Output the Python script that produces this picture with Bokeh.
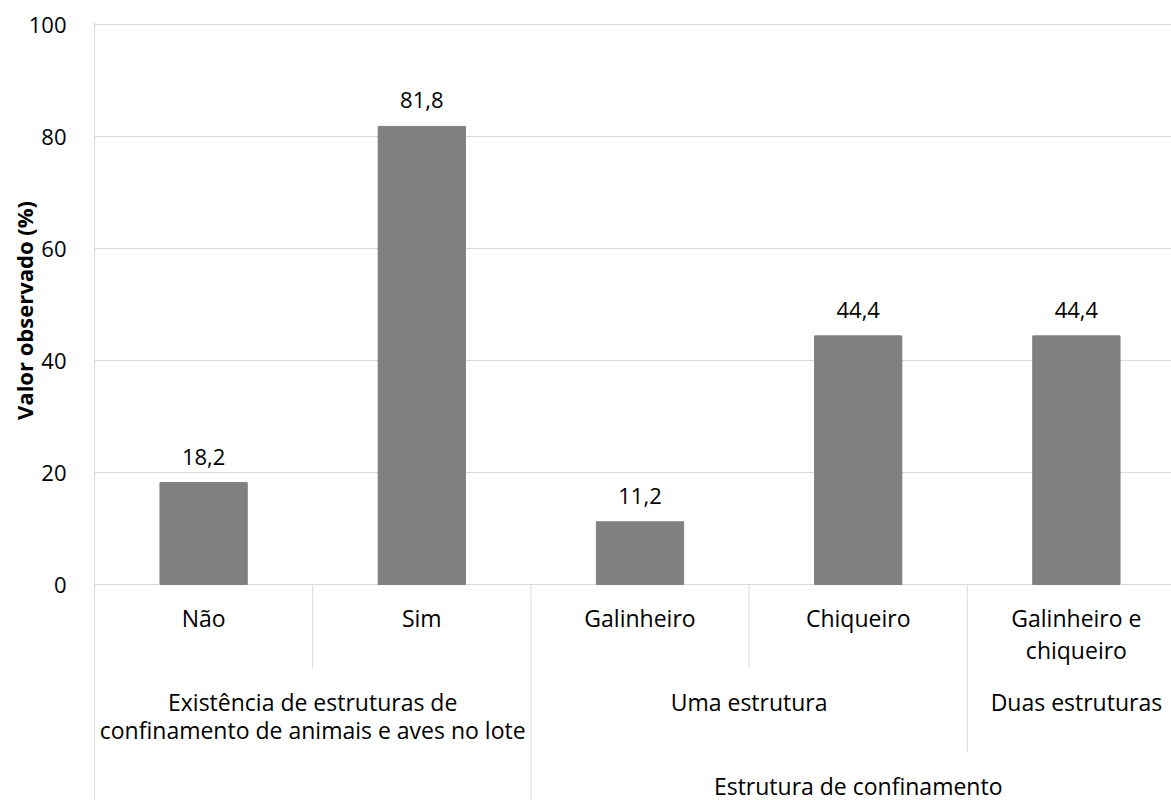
from bokeh.plotting import figure
from bokeh.layouts import column
from bokeh.models import Range1d, FixedTicker
from bokeh.core.properties import value
from bokeh.embed import file_html
from bokeh.resources import INLINE

# ---- data ----
categories = ["Não", "Sim", "Galinheiro", "Chiqueiro", "Galinheiro e\nchiqueiro"]
values = [18.2, 81.8, 11.2, 44.4, 44.4]
group_labels = ["Existência de estruturas de\nconfinamento de animais e aves no lote",
                "Uma estrutura", "Duas estruturas"]
group_spans = [(0, 2), (2, 4), (4, 5)]
top_labels = ["Estrutura de confinamento"]
top_spans = [(2, 5)]
y_ticks = [0, 20, 40, 60, 80, 100]
y_title = "Valor observado (%)"

FONT = "Open Sans"
FS = "22px"
FS_CAT = "23px"
GRID = "#d9d9d9"
PX = 5.6          # pixels per percentage unit
W = 1171
LEFT = 94
ZERO_Y = 584      # screen y of value 0
TOP_Y = 22        # top of upper frame
MID_Y = 598       # split between the two panels
H = 800

x_range = Range1d(0, (W - LEFT) / 218.2)

# divider segments (shared by both panels, clipped by each frame)
lvl1_end = -(668 - ZERO_Y) / PX
lvl2_end = -(752 - ZERO_Y) / PX
bottom = -(H + 5 - ZERO_Y) / PX
inner = set()
for a, b in group_spans:
    for k in range(a + 1, b):
        inner.add(k)
top_bounds = {a for a, b in top_spans}
x0s, y0s, y1s = [], [], []
for k in range(1, len(categories)):
    x0s.append(k)
    y0s.append(0)
    if k in inner:
        y1s.append(lvl1_end)
    elif k in top_bounds:
        y1s.append(bottom)
    else:
        y1s.append(lvl2_end)

# ---- upper panel: bars ----
p = figure(width=W, height=MID_Y, x_range=x_range,
           y_range=Range1d(-(MID_Y - ZERO_Y) / PX, (ZERO_Y - TOP_Y) / PX),
           output_backend="svg", toolbar_location=None, x_axis_type=None,
           min_border_left=LEFT, min_border_right=0, min_border_top=TOP_Y, min_border_bottom=0)
p.outline_line_color = None
p.yaxis.ticker = FixedTicker(ticks=y_ticks)
p.ygrid.ticker = FixedTicker(ticks=y_ticks)
p.ygrid.grid_line_color = GRID
p.yaxis.axis_line_color = GRID
p.yaxis.major_tick_line_color = None
p.yaxis.minor_tick_line_color = None
p.yaxis.major_label_standoff = 22
p.yaxis.major_label_text_font = FONT
p.yaxis.major_label_text_font_size = FS
p.yaxis.major_label_text_color = "black"
p.yaxis.axis_label = y_title
p.yaxis.axis_label_text_font = FONT
p.yaxis.axis_label_text_font_size = FS
p.yaxis.axis_label_text_font_style = "bold"
p.yaxis.axis_label_text_color = "black"
p.yaxis.axis_label_standoff = -13

xs = [i + 0.5 for i in range(len(categories))]
p.vbar(x=xs, top=values, width=0.4, bottom=0, color="#808080")
p.segment(x0=x0s, y0=y0s, x1=x0s, y1=y1s, line_color=GRID, line_width=1)

lab = [f"{v:.1f}".replace(".", ",") for v in values]
p.text(x=xs, y=[v + 26 / PX for v in values], text=lab,
       text_align="center", text_baseline="middle",
       text_font=value(FONT), text_font_size=FS, text_color="black")

# ---- lower panel: multi-level category axis ----
q = figure(width=W, height=H - MID_Y, x_range=x_range,
           y_range=Range1d(-(H - ZERO_Y) / PX, -(MID_Y - ZERO_Y) / PX),
           output_backend="svg", toolbar_location=None, x_axis_type=None,
           min_border_left=LEFT, min_border_right=0, min_border_top=0, min_border_bottom=0)
q.outline_line_color = None
q.grid.visible = False
q.yaxis.ticker = FixedTicker(ticks=[])
q.yaxis.axis_line_color = GRID
q.yaxis.major_tick_line_color = None
q.yaxis.minor_tick_line_color = None
q.yaxis.major_label_text_font_size = "0px"
q.segment(x0=x0s, y0=y0s, x1=x0s, y1=y1s, line_color=GRID, line_width=1)

y1 = -(601 - ZERO_Y) / PX
y2 = -(685 - ZERO_Y) / PX
y3 = -(769 - ZERO_Y) / PX
q.text(x=xs, y=[y1] * len(xs), text=categories, text_align="center", text_baseline="top",
       text_font=value(FONT), text_font_size=FS_CAT, text_color="black", text_line_height=1.02)
gx = [(a + b) / 2 for a, b in group_spans]
q.text(x=gx, y=[y2] * len(gx), text=group_labels, text_align="center", text_baseline="top",
       text_font=value(FONT), text_font_size=FS_CAT, text_color="black", text_line_height=0.9)
tx = [(a + b) / 2 for a, b in top_spans]
q.text(x=tx, y=[y3] * len(tx), text=top_labels, text_align="center", text_baseline="top",
       text_font=value(FONT), text_font_size=FS_CAT, text_color="black")

layout = column(p, q, spacing=0)
open("out.html", "w").write(file_html(layout, INLINE))
